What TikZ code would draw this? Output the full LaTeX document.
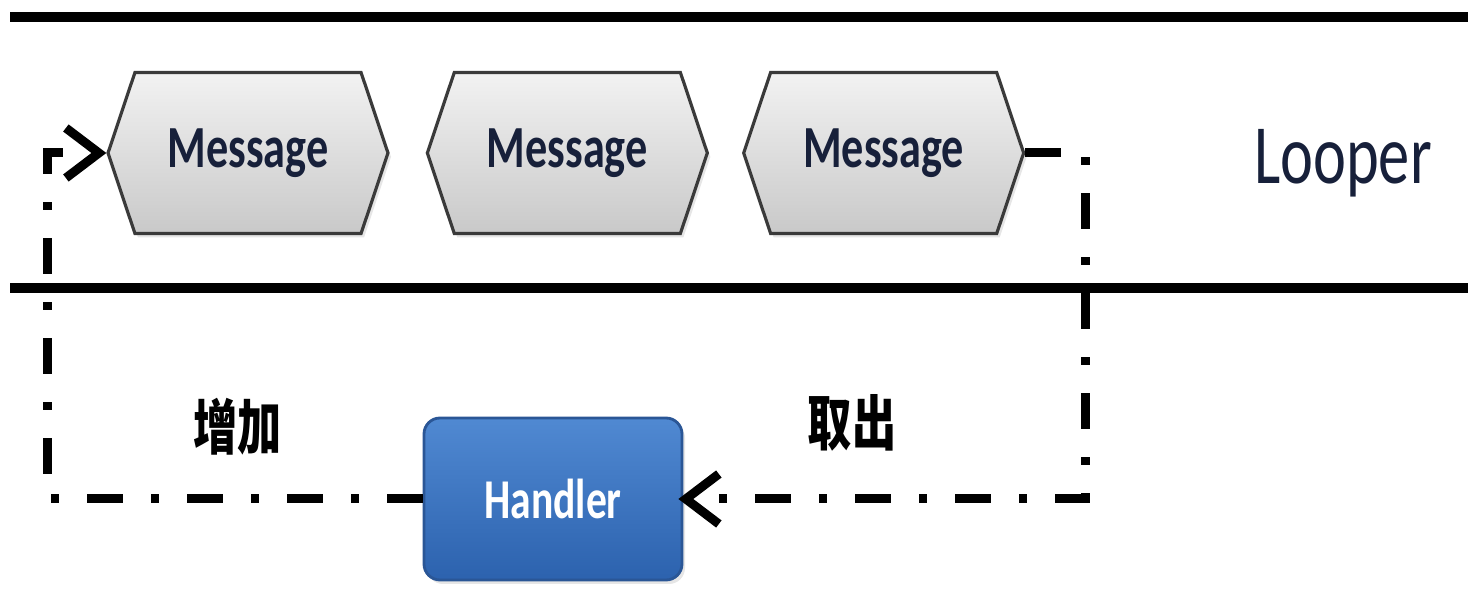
\documentclass[tikz,border=0pt]{standalone}
\usepackage{fontspec}
\usepackage{graphicx}
\setmainfont{Carlito}
\newfontfamily\cjk{Noto Sans CJK SC}
\usetikzlibrary{positioning, arrows.meta, shapes.symbols, shadows}

\definecolor{msgtext}{HTML}{17203A}
\definecolor{msgline}{HTML}{3A3A3A}
\definecolor{msgtop}{HTML}{F2F2F2}
\definecolor{msgbot}{HTML}{C9C9C9}
\definecolor{hdtop}{HTML}{5089D2}
\definecolor{hdbot}{HTML}{2C62AE}
\definecolor{hdline}{HTML}{2A5696}

% text in the picture is set a bit narrow
\newcommand{\narrow}[1]{\scalebox{0.74}[1]{#1}}

\begin{document}
\begin{tikzpicture}
            [msg/.style={signal, signal to=east and west, signal pointer angle=143,
                         draw=msgline, line width=0.9pt, top color=msgtop, bottom color=msgbot,
                         minimum width=2.8cm, minimum height=1.61cm, inner sep=0pt,
                         font=\fontsize{17}{20}\selectfont\bfseries, text=msgtext,
                         drop shadow={opacity=0.2, shadow xshift=0.03cm, shadow yshift=-0.04cm}},
             handlerbox/.style={rectangle, rounded corners=0.16cm, draw=hdline, line width=0.8pt,
                         top color=hdtop, bottom color=hdbot,
                         minimum width=2.58cm, minimum height=1.62cm,
                         font=\fontsize{16}{19}\selectfont\bfseries, text=white,
                         drop shadow={opacity=0.2, shadow xshift=0.03cm, shadow yshift=-0.04cm}},
             word/.style={font=\cjk\bfseries\fontsize{17}{20}\selectfont},
             flow/.style={line width=0.09cm, dash pattern=on 0.36cm off 0.28cm on 0.08cm off 0.28cm},
             >={Straight Barb[length=0.33cm, width=0.5cm]}]
            \useasboundingbox (0,0) rectangle (14.68,5.89);

            % the looper band
            \draw[line width=0.1cm] (0.10,5.72) -- (14.68,5.72);
            \draw[line width=0.1cm] (0.10,3.01) -- (14.68,3.01);

            \node[msg] (msg1) at (2.48,4.36) {\narrow{Message}};
            \node[msg, right=0.36cm of msg1] (msg2) {\narrow{Message}};
            \node[msg, right=0.33cm of msg2] (msg3) {\narrow{Message}};
            \node[font=\fontsize{24}{28}\selectfont, text=msgtext] (looper) at (13.43,4.26) {\narrow{Looper}};

            \node[handlerbox] (handler) at (5.53,0.90) {\narrow{Handler}};
            \node[word] (add) at (2.38,1.62) {\narrow{增加}};
            \node[word] (take) at (8.52,1.66) {\narrow{取出}};

            \coordinate (tl) at (0.48,4.36);
            \coordinate (bl) at (0.48,0.90);
            \coordinate (tr) at (10.85,4.36);
            \coordinate (br) at (10.85,0.90);

            \draw[flow, ->, shorten >=-0.05cm] (msg3.east) -- (tr) -- (br) -- (handler.east);
            \draw[flow, ->] (handler.west) -- (bl) -- (tl) -- (msg1.west);
        \end{tikzpicture}
\end{document}
